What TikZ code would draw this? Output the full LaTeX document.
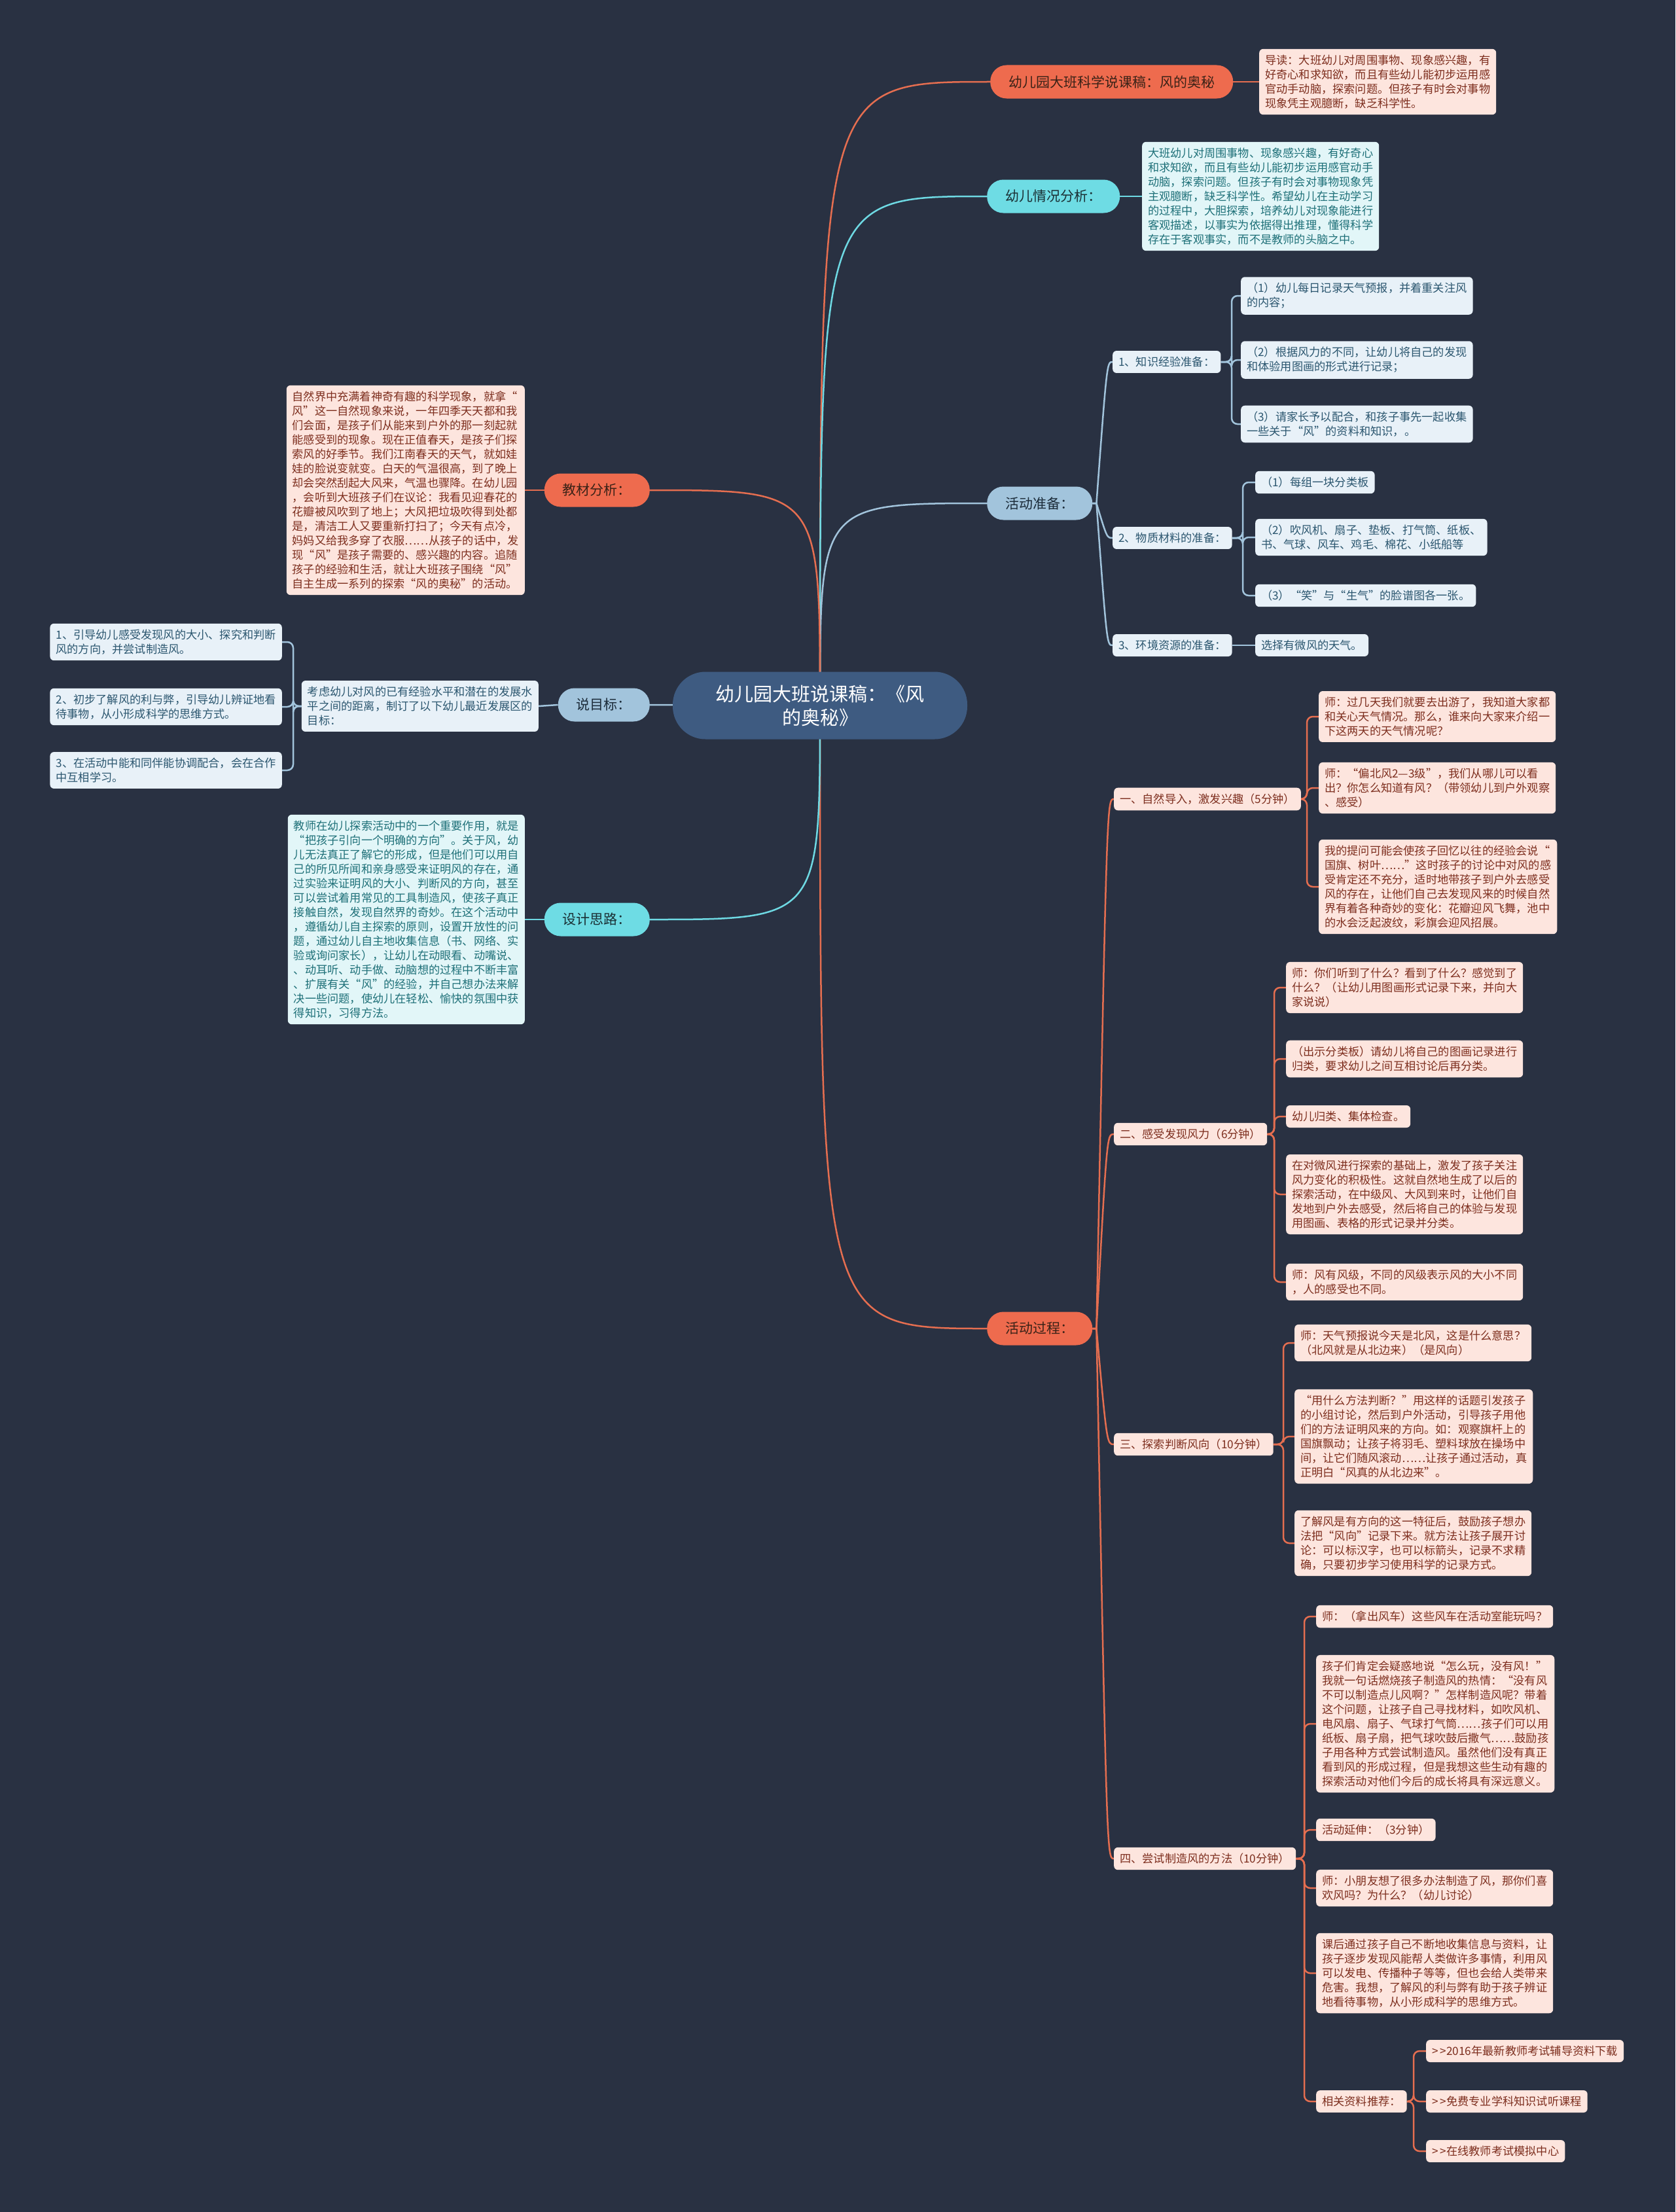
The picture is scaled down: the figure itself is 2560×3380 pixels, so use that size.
\documentclass[tikz,border=0pt]{standalone}
\usepackage{fontspec}
\setmainfont{Noto Sans CJK SC}
\definecolor{bgc}{HTML}{293142}
\definecolor{orf}{HTML}{EE6B4E}
\definecolor{orl}{HTML}{E56E50}
\definecolor{ort}{HTML}{3A2217}
\definecolor{pkf}{HTML}{FDE5DE}
\definecolor{pkt}{HTML}{7D2E1E}
\definecolor{cyf}{HTML}{6EDCE4}
\definecolor{cyl}{HTML}{6ED9E3}
\definecolor{cyt}{HTML}{1B3035}
\definecolor{cnf}{HTML}{E2F6F8}
\definecolor{cnt}{HTML}{1E7078}
\definecolor{blf}{HTML}{A2C4DC}
\definecolor{bll}{HTML}{A2C4DC}
\definecolor{blt}{HTML}{1C2C3A}
\definecolor{lbf}{HTML}{E8F1F8}
\definecolor{lbt}{HTML}{2B566F}
\definecolor{rtf}{HTML}{3E5B81}
\pgfdeclarelayer{bgl}
\pgfdeclarelayer{lines}
\pgfsetlayers{bgl,lines,main}
\tikzset{
  base/.style={inner xsep=9, inner ysep=9, align=left, rounded corners=6, font=\fontsize{17.2}{22}\selectfont},
  pinkbox/.style={base, fill=pkf, text=pkt},
  cyanbox/.style={base, fill=cnf, text=cnt},
  bluebox/.style={base, fill=lbf, text=lbt},
  topic/.style={rounded corners=25, minimum height=51, inner xsep=28, inner ysep=6, font=\fontsize{21}{26}\selectfont},
  otopic/.style={topic, fill=orf, text=ort},
  ctopic/.style={topic, fill=cyf, text=cyt},
  btopic/.style={topic, fill=blf, text=blt},
  rootbox/.style={rounded corners=50, minimum width=450, minimum height=103, fill=rtf, text=white, align=center, font=\fontsize{29}{36}\selectfont},
  oline/.style={draw=orl, line width=2.5},
  cline/.style={draw=cyl, line width=2.5},
  bline/.style={draw=bll, line width=2.5},
}
\newcommand\elbR[4]{\draw[#1,rounded corners=9] (#2.east) -- (#4,0 |- #2.east) |- (#3.west);}
\newcommand\elbL[4]{\draw[#1,rounded corners=9] (#2.west) -- (#4,0 |- #2.west) |- (#3.east);}
\newcommand\gtgt{>\kern3pt>}
\begin{document}
\begin{tikzpicture}[x=1pt,y=-1pt]
\begin{pgfonlayer}{bgl}
\fill[bgc] (0,0) rectangle (2560,3380);
\end{pgfonlayer}
\useasboundingbox (0,0) rectangle (2560,3380);

% root
\node[rootbox] (root) at (1253,1078) {幼儿园大班说课稿：《风\\的奥秘》};

% right topic 1
\node[otopic, anchor=west] (t1) at (1513,125) {幼儿园大班科学说课稿：风的奥秘};
\node[pinkbox, anchor=west] (n1) at (1924,125) {导读：大班幼儿对周围事物、现象感兴趣，有\\好奇心和求知欲，而且有些幼儿能初步运用感\\官动手动脑，探索问题。但孩子有时会对事物\\现象凭主观臆断，缺乏科学性。};

% right topic 2
\node[ctopic, anchor=west] (t2) at (1508,300) {幼儿情况分析：};
\node[cyanbox, anchor=west] (n2) at (1745,300) {大班幼儿对周围事物、现象感兴趣，有好奇心\\和求知欲，而且有些幼儿能初步运用感官动手\\动脑，探索问题。但孩子有时会对事物现象凭\\主观臆断，缺乏科学性。希望幼儿在主动学习\\的过程中，大胆探索，培养幼儿对现象能进行\\客观描述，以事实为依据得出推理，懂得科学\\存在于客观事实，而不是教师的头脑之中。};

% right topic 3
\node[btopic, anchor=west] (t3) at (1508,769) {活动准备：};
\node[bluebox, anchor=west] (p1) at (1700,553) {1、知识经验准备：};
\node[bluebox, anchor=west] (q1) at (1896,452) {（1）幼儿每日记录天气预报，并着重关注风\\的内容；};
\node[bluebox, anchor=west] (q2) at (1896,550) {（2）根据风力的不同，让幼儿将自己的发现\\和体验用图画的形式进行记录；};
\node[bluebox, anchor=west] (q3) at (1896,648) {（3）请家长予以配合，和孩子事先一起收集\\一些关于“风”的资料和知识，。};
\node[bluebox, anchor=west] (p2) at (1700,822) {2、物质材料的准备：};
\node[bluebox, anchor=west] (r1) at (1918,737) {（1）每组一块分类板};
\node[bluebox, anchor=west] (r2) at (1918,821) {（2）吹风机、扇子、垫板、打气筒、纸板、\\书、气球、风车、鸡毛、棉花、小纸船等};
\node[bluebox, anchor=west] (r3) at (1918,910) {（3）“笑”与“生气”的脸谱图各一张。};
\node[bluebox, anchor=west] (p3) at (1700,986) {3、环境资源的准备：};
\node[bluebox, anchor=west] (s1) at (1918,986) {选择有微风的天气。};

% left topic 4
\node[otopic, anchor=east] (t4) at (993,749) {教材分析：};
\node[pinkbox, anchor=east] (n4) at (802,749) {自然界中充满着神奇有趣的科学现象，就拿“\\风”这一自然现象来说，一年四季天天都和我\\们会面，是孩子们从能来到户外的那一刻起就\\能感受到的现象。现在正值春天，是孩子们探\\索风的好季节。我们江南春天的天气，就如娃\\娃的脸说变就变。白天的气温很高，到了晚上\\却会突然刮起大风来，气温也骤降。在幼儿园\\，会听到大班孩子们在议论：我看见迎春花的\\花瓣被风吹到了地上；大风把垃圾吹得到处都\\是，清洁工人又要重新打扫了；今天有点冷，\\妈妈又给我多穿了衣服……从孩子的话中，发\\现“风”是孩子需要的、感兴趣的内容。追随\\孩子的经验和生活，就让大班孩子围绕“风”\\自主生成一系列的探索“风的奥秘”的活动。};

% left topic 5
\node[btopic, anchor=east] (t5) at (993,1077) {说目标：};
\node[bluebox, anchor=east] (m5) at (823,1079) {考虑幼儿对风的已有经验水平和潜在的发展水\\平之间的距离，制订了以下幼儿最近发展区的\\目标：};
\node[bluebox, anchor=east] (L1) at (431,981) {1、引导幼儿感受发现风的大小、探究和判断\\风的方向，并尝试制造风。};
\node[bluebox, anchor=east] (L2) at (431,1080) {2、初步了解风的利与弊，引导幼儿辨证地看\\待事物，从小形成科学的思维方式。};
\node[bluebox, anchor=east] (L3) at (431,1177) {3、在活动中能和同伴能协调配合，会在合作\\中互相学习。};

% left topic 6
\node[ctopic, anchor=east] (t6) at (993,1405) {设计思路：};
\node[cyanbox, anchor=east] (n6) at (802,1405) {教师在幼儿探索活动中的一个重要作用，就是\\“把孩子引向一个明确的方向”。关于风，幼\\儿无法真正了解它的形成，但是他们可以用自\\己的所见所闻和亲身感受来证明风的存在，通\\过实验来证明风的大小、判断风的方向，甚至\\可以尝试着用常见的工具制造风，使孩子真正\\接触自然，发现自然界的奇妙。在这个活动中\\，遵循幼儿自主探索的原则，设置开放性的问\\题，通过幼儿自主地收集信息（书、网络、实\\验或询问家长），让幼儿在动眼看、动嘴说、\\、动耳听、动手做、动脑想的过程中不断丰富\\、扩展有关“风”的经验，并自己想办法来解\\决一些问题，使幼儿在轻松、愉快的氛围中获\\得知识，习得方法。};

% right topic 7
\node[otopic, anchor=west] (t7) at (1508,2030) {活动过程：};
\node[pinkbox, anchor=west] (a) at (1702,1221) {一、自然导入，激发兴趣（5分钟）};
\node[pinkbox, anchor=west] (a1) at (2015,1095) {师：过几天我们就要去出游了，我知道大家都\\和关心天气情况。那么，谁来向大家来介绍一\\下这两天的天气情况呢？};
\node[pinkbox, anchor=west] (a2) at (2015,1204) {师：“偏北风2—3级”，我们从哪儿可以看\\出？你怎么知道有风？（带领幼儿到户外观察\\、感受）};
\node[pinkbox, anchor=west] (a3) at (2015,1355) {我的提问可能会使孩子回忆以往的经验会说“\\国旗、树叶……”这时孩子的讨论中对风的感\\受肯定还不充分，适时地带孩子到户外去感受\\风的存在，让他们自己去发现风来的时候自然\\界有着各种奇妙的变化：花瓣迎风飞舞，池中\\的水会泛起波纹，彩旗会迎风招展。};
\node[pinkbox, anchor=west] (b) at (1702,1733) {二、感受发现风力（6分钟）};
\node[pinkbox, anchor=west] (b1) at (1965,1509) {师：你们听到了什么？看到了什么？感觉到了\\什么？（让幼儿用图画形式记录下来，并向大\\家说说）};
\node[pinkbox, anchor=west] (b2) at (1965,1618) {（出示分类板）请幼儿将自己的图画记录进行\\归类，要求幼儿之间互相讨论后再分类。};
\node[pinkbox, anchor=west] (b3) at (1965,1706) {幼儿归类、集体检查。};
\node[pinkbox, anchor=west] (b4) at (1965,1825) {在对微风进行探索的基础上，激发了孩子关注\\风力变化的积极性。这就自然地生成了以后的\\探索活动，在中级风、大风到来时，让他们自\\发地到户外去感受，然后将自己的体验与发现\\用图画、表格的形式记录并分类。};
\node[pinkbox, anchor=west] (b5) at (1965,1959) {师：风有风级，不同的风级表示风的大小不同\\，人的感受也不同。};
\node[pinkbox, anchor=west] (c) at (1702,2207) {三、探索判断风向（10分钟）};
\node[pinkbox, anchor=west] (c1) at (1978,2052) {师：天气预报说今天是北风，这是什么意思？\\（北风就是从北边来）（是风向）};
\node[pinkbox, anchor=west] (c2) at (1978,2195) {“用什么方法判断？”用这样的话题引发孩子\\的小组讨论，然后到户外活动，引导孩子用他\\们的方法证明风来的方向。如：观察旗杆上的\\国旗飘动；让孩子将羽毛、塑料球放在操场中\\间，让它们随风滚动……让孩子通过活动，真\\正明白“风真的从北边来”。};
\node[pinkbox, anchor=west] (c3) at (1978,2358) {了解风是有方向的这一特征后，鼓励孩子想办\\法把“风向”记录下来。就方法让孩子展开讨\\论：可以标汉字，也可以标箭头，记录不求精\\确，只要初步学习使用科学的记录方式。};
\node[pinkbox, anchor=west] (d) at (1702,2840) {四、尝试制造风的方法（10分钟）};
\node[pinkbox, anchor=west] (d1) at (2011,2470) {师：（拿出风车）这些风车在活动室能玩吗？};
\node[pinkbox, anchor=west] (d2) at (2011,2634) {孩子们肯定会疑惑地说“怎么玩，没有风！”\\我就一句话燃烧孩子制造风的热情：“没有风\\不可以制造点儿风啊？”怎样制造风呢？带着\\这个问题，让孩子自己寻找材料，如吹风机、\\电风扇、扇子、气球打气筒……孩子们可以用\\纸板、扇子扇，把气球吹鼓后撒气……鼓励孩\\子用各种方式尝试制造风。虽然他们没有真正\\看到风的形成过程，但是我想这些生动有趣的\\探索活动对他们今后的成长将具有深远意义。};
\node[pinkbox, anchor=west] (d3) at (2011,2796) {活动延伸：（3分钟）};
\node[pinkbox, anchor=west] (d4) at (2011,2885) {师：小朋友想了很多办法制造了风，那你们喜\\欢风吗？为什么？（幼儿讨论）};
\node[pinkbox, anchor=west] (d5) at (2011,3015) {课后通过孩子自己不断地收集信息与资料，让\\孩子逐步发现风能帮人类做许多事情，利用风\\可以发电、传播种子等等，但也会给人类带来\\危害。我想，了解风的利与弊有助于孩子辨证\\地看待事物，从小形成科学的思维方式。};
\node[pinkbox, anchor=west] (d6) at (2011,3211) {相关资料推荐：};
\node[pinkbox, anchor=west] (e1) at (2179,3134) {\gtgt 2016年最新教师考试辅导资料下载};
\node[pinkbox, anchor=west] (e2) at (2179,3211) {\gtgt 免费专业学科知识试听课程};
\node[pinkbox, anchor=west] (e3) at (2179,3287) {\gtgt 在线教师考试模拟中心};

% helper coordinates
\coordinate (t3a) at ([xshift=6pt]t3.east);
\coordinate (t3b) at ([xshift=22pt]t3.east);
\coordinate (t7a) at ([xshift=6pt]t7.east);
\coordinate (t7b) at ([xshift=22pt]t7.east);

\begin{pgfonlayer}{lines}
% root to topics
\draw[oline] (root.center) .. controls (root.center |- t1.west) .. (t1.west);
\draw[cline] (root.center) .. controls (root.center |- t2.west) .. (t2.west);
\draw[bline] (root.center) .. controls (root.center |- t3.west) .. (t3.west);
\draw[oline] (root.center) .. controls (root.center |- t7.west) .. (t7.west);
\draw[oline] (root.center) .. controls (root.center |- t4.east) .. (t4.east);
\draw[bline] (root.center) -- (t5.east);
\draw[cline] (root.center) .. controls (root.center |- t6.east) .. (t6.east);
% notes
\draw[oline] (t1.east) -- (n1.west);
\draw[cline] (t2.east) -- (n2.west);
\draw[oline] (t4.west) -- (n4.east);
\draw[bline] (t5.west) -- (m5.east);
\draw[cline] (t6.west) -- (n6.east);
% activity preparation
\foreach \k in {p1,p2,p3}{\draw[bline] (t3.east) -- (t3a) .. controls (t3b |- \k.west) .. (\k.west);}
\elbR{bline}{p1}{q1}{1882}
\elbR{bline}{p1}{q2}{1882}
\elbR{bline}{p1}{q3}{1882}
\elbR{bline}{p2}{r1}{1899}
\elbR{bline}{p2}{r2}{1899}
\elbR{bline}{p2}{r3}{1899}
\draw[bline] (p3.east) -- (s1.west);
% goals
\elbL{bline}{m5}{L1}{448}
\elbL{bline}{m5}{L2}{448}
\elbL{bline}{m5}{L3}{448}
% activity process
\foreach \k in {a,b,c,d}{\draw[oline] (t7.east) -- (t7a) .. controls (t7b |- \k.west) .. (\k.west);}
\foreach \k in {a1,a2,a3}{\elbR{oline}{a}{\k}{1997}}
\foreach \k in {b1,b2,b3,b4,b5}{\elbR{oline}{b}{\k}{1947}}
\foreach \k in {c1,c2,c3}{\elbR{oline}{c}{\k}{1961}}
\foreach \k in {d1,d2,d3,d4,d5,d6}{\elbR{oline}{d}{\k}{1993}}
\foreach \k in {e1,e2,e3}{\elbR{oline}{d6}{\k}{2160}}
\end{pgfonlayer}
\end{tikzpicture}
\end{document}
